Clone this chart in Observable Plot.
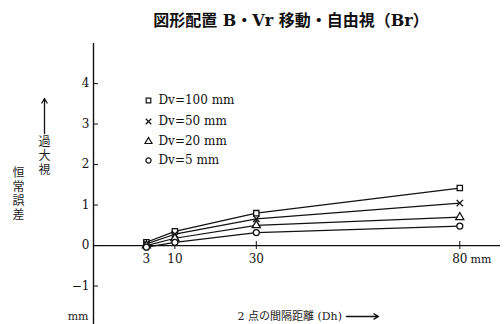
<!DOCTYPE html>
<html><head><meta charset="utf-8">
<script src="https://cdn.jsdelivr.net/npm/d3@7"></script>
<script src="https://cdn.jsdelivr.net/npm/@observablehq/plot@0.6"></script>
<style>body{margin:0;background:#fff}svg{display:block}</style>
</head><body><div id="chart"></div>
<script>
// ---- data ----
const dh = [3, 10, 30, 80];
const seriesNames = ["Dv=100 mm", "Dv=50 mm", "Dv=20 mm", "Dv=5 mm"];
const seriesSymbols = ["square", "times", "triangle", "circle"];
const dv100 = [0.08, 0.35, 0.80, 1.42];
const dv50 = [0.04, 0.28, 0.66, 1.05];
const dv20 = [0.00, 0.18, 0.50, 0.70];
const dv5 = [-0.04, 0.08, 0.32, 0.48];
const yTicks = [-1, 0, 1, 2, 3, 4];
const xTicks = [3, 10, 30, 80];
const xTickLabels = ["3", "10", "30", "80"];
const titleText = "図形配置 B・Vr 移動・自由視（Br）";
const yLabelOuter = "恒常誤差";
const yLabelInner = "過大視";
const xLabelText = "2 点の間隔距離 (Dh)";

const allSeries = [dv100, dv50, dv20, dv5];
const rows = [];
allSeries.forEach((vals, s) => vals.forEach((v, i) => rows.push({x: dh[i], y: v, s: seriesNames[s]})));

const W = 504, H = 324;
const mL = 93, mR = 4, mT = 43, mB = 0;
const xDom = [-10, 90], yDom = [-1.95, 4.99];
const px = p => xDom[0] + (p - mL) / (W - mL - mR) * (xDom[1] - xDom[0]);
const py = p => yDom[1] - (p - mT) / (H - mT - mB) * (yDom[1] - yDom[0]);

const serif = "'DejaVu Serif','Liberation Serif','Noto Sans CJK JP',serif";
const legendRows = seriesNames.map((n, i) => ({s: n, y: py([100, 121, 141, 160][i])}));

const chart = Plot.plot({
  width: W, height: H,
  marginLeft: mL, marginRight: mR, marginTop: mT, marginBottom: mB,
  x: {domain: xDom, axis: null},
  y: {domain: yDom, axis: null},
  symbol: {domain: seriesNames, range: seriesSymbols},
  style: {fontFamily: serif, background: "#fff", overflow: "visible"},
  marks: [
    Plot.ruleX([xDom[0]], {y1: yDom[0], y2: yDom[1], stroke: "#111", strokeWidth: 1.4}),
    Plot.ruleY([0], {x1: xDom[0], x2: xDom[1], stroke: "#111", strokeWidth: 1.3}),
    Plot.ruleY(yTicks, {x1: xDom[0], x2: px(mL + 5), stroke: "#111"}),
    Plot.text(yTicks, {x: xDom[0], y: d => d, text: d => d < 0 ? "−" + (-d) : String(d), dx: -4, textAnchor: "end", fontSize: 12, fill: "#111"}),
    Plot.ruleX(xTicks.slice(1), {y1: py(249), y2: py(241), stroke: "#111"}),
    Plot.text(xTicks, {x: d => d, y: 0, dy: 14, text: (d, i) => xTickLabels[i], fontSize: 12, fill: "#111"}),
    Plot.text(["mm"], {x: px(470), y: 0, dy: 14, textAnchor: "start", fontSize: 11, fill: "#111"}),
    Plot.line(rows, {x: "x", y: "y", z: "s", stroke: "#111", strokeWidth: 1.2}),
    Plot.dot(rows, {x: "x", y: "y", symbol: "s", r: 3, fill: "white", stroke: "#111", strokeWidth: 1.3}),
    // legend
    Plot.dot(legendRows, {x: px(148), y: "y", symbol: "s", r: 2.6, fill: "white", stroke: "#111", strokeWidth: 1.2}),
    Plot.text(legendRows, {x: px(158), y: "y", text: "s", textAnchor: "start", fontSize: 12, fill: "#111"}),
    // title
    Plot.text([titleText], {frameAnchor: "top", dy: -29, dx: -6, fontSize: 16, fontWeight: "bold", fill: "#111"}),
    // y label (vertical, upright characters)
    Plot.text([yLabelOuter.split("").join("\n")], {x: px(18), y: py(193), fontSize: 12, lineHeight: 1.15, fill: "#222"}),
    Plot.text([yLabelInner.split("").join("\n")], {x: px(44), y: py(155), fontSize: 12, lineHeight: 1.15, fill: "#222"}),
    Plot.arrow([0], {x1: px(44), y1: py(133), x2: px(44), y2: py(98), stroke: "#111", strokeWidth: 1.3, headLength: 6}),
    // x label
    Plot.text([xLabelText], {x: px(237), y: py(316), textAnchor: "start", fontSize: 11, fill: "#222"}),
    Plot.arrow([0], {x1: px(346), y1: py(316), x2: px(378), y2: py(316), stroke: "#111", strokeWidth: 1.3, headLength: 6}),
    Plot.text(["mm"], {x: px(88), y: py(316), textAnchor: "end", fontSize: 11, fill: "#222"})
  ]
});
document.getElementById("chart").append(chart);
</script>
</body></html>
